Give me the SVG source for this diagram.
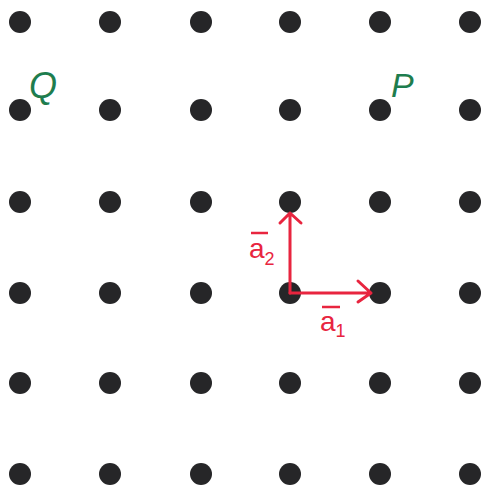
<svg xmlns="http://www.w3.org/2000/svg" width="485" height="491" viewBox="0 0 485 491">
<defs>
<style>
.dot{fill:#262628}
.vec{stroke:#e8253f;stroke-width:3;fill:none;stroke-linecap:round;stroke-linejoin:round}
.lbl{fill:#e8253f;font-family:"Liberation Sans",sans-serif}
.pt{fill:#1e7d4e;font-family:"Liberation Sans",sans-serif;font-style:italic}
</style>
</defs>
<rect width="485" height="491" fill="#ffffff"/>
<g id="lattice">
<circle class="dot" cx="20" cy="22" r="11"/><circle class="dot" cx="110" cy="22" r="11"/><circle class="dot" cx="201" cy="22" r="11"/><circle class="dot" cx="290" cy="22" r="11"/><circle class="dot" cx="380" cy="22" r="11"/><circle class="dot" cx="470" cy="22" r="11"/>
<circle class="dot" cx="20" cy="110" r="11"/><circle class="dot" cx="110" cy="110" r="11"/><circle class="dot" cx="201" cy="110" r="11"/><circle class="dot" cx="290" cy="110" r="11"/><circle class="dot" cx="380" cy="110" r="11"/><circle class="dot" cx="470" cy="110" r="11"/>
<circle class="dot" cx="20" cy="202" r="11"/><circle class="dot" cx="110" cy="202" r="11"/><circle class="dot" cx="201" cy="202" r="11"/><circle class="dot" cx="290" cy="202" r="11"/><circle class="dot" cx="380" cy="202" r="11"/><circle class="dot" cx="470" cy="202" r="11"/>
<circle class="dot" cx="20" cy="293" r="11"/><circle class="dot" cx="110" cy="293" r="11"/><circle class="dot" cx="201" cy="293" r="11"/><circle class="dot" cx="290" cy="293" r="11"/><circle class="dot" cx="380" cy="293" r="11"/><circle class="dot" cx="470" cy="293" r="11"/>
<circle class="dot" cx="20" cy="383" r="11"/><circle class="dot" cx="110" cy="383" r="11"/><circle class="dot" cx="201" cy="383" r="11"/><circle class="dot" cx="290" cy="383" r="11"/><circle class="dot" cx="380" cy="383" r="11"/><circle class="dot" cx="470" cy="383" r="11"/>
<circle class="dot" cx="20" cy="474" r="11"/><circle class="dot" cx="110" cy="474" r="11"/><circle class="dot" cx="201" cy="474" r="11"/><circle class="dot" cx="290" cy="474" r="11"/><circle class="dot" cx="380" cy="474" r="11"/><circle class="dot" cx="470" cy="474" r="11"/>
</g>
<g id="connectors">
<path class="vec" d="M290 293 L371 293 M358 281 L371 293 L358 302"/>
<path class="vec" d="M290 293 L290 213 M280 223 L290 213 L301 223"/>
</g>
<g id="label-a1">
<line x1="322" y1="307" x2="340" y2="307" stroke="#e8253f" stroke-width="2.5"/>
<text class="lbl" x="320" y="331" font-size="28">a<tspan font-size="18" dy="6">1</tspan></text>
</g>
<g id="label-a2">
<line x1="251" y1="233" x2="268" y2="233" stroke="#e8253f" stroke-width="2.5"/>
<text class="lbl" x="249" y="258" font-size="28">a<tspan font-size="18" dy="7">2</tspan></text>
</g>
<g id="label-Q"><text class="pt" x="29" y="98" font-size="36">Q</text></g>
<g id="label-P"><text class="pt" x="391" y="97" font-size="34">P</text></g>
</svg>
